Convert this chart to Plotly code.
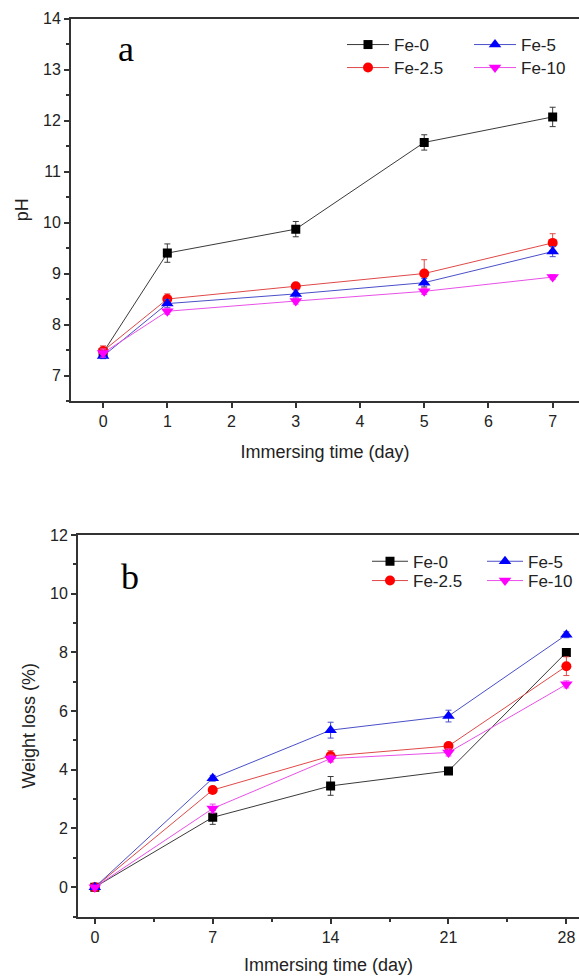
import plotly.graph_objects as go

# ---------------- data ----------------
series_names = ["Fe-0", "Fe-2.5", "Fe-5", "Fe-10"]

ph_days = [0, 1, 3, 5, 7]
ph_fe0 = [7.45, 9.40, 9.87, 11.57, 12.07]
ph_fe0_err = [0.10, 0.18, 0.15, 0.15, 0.19]
ph_fe25 = [7.48, 8.50, 8.75, 9.00, 9.60]
ph_fe25_err = [0.10, 0.10, 0.06, 0.27, 0.18]
ph_fe5 = [7.38, 8.41, 8.60, 8.82, 9.43]
ph_fe5_err = [0.05, 0.08, 0.08, 0.08, 0.10]
ph_fe10 = [7.44, 8.26, 8.46, 8.65, 8.93]
ph_fe10_err = [0.08, 0.06, 0.06, 0.06, 0.05]

wl_days = [0, 7, 14, 21, 28]
wl_fe0 = [0.0, 2.38, 3.45, 3.96, 8.00]
wl_fe0_err = [0.05, 0.24, 0.32, 0.12, 0.10]
wl_fe25 = [0.0, 3.31, 4.47, 4.81, 7.53]
wl_fe25_err = [0.05, 0.12, 0.18, 0.10, 0.32]
wl_fe5 = [0.0, 3.71, 5.35, 5.83, 8.60]
wl_fe5_err = [0.05, 0.10, 0.27, 0.20, 0.10]
wl_fe10 = [0.0, 2.68, 4.38, 4.59, 6.91]
wl_fe10_err = [0.05, 0.15, 0.12, 0.12, 0.12]

ph_x_ticks = [0, 1, 2, 3, 4, 5, 6, 7]
ph_y_ticks = [7, 8, 9, 10, 11, 12, 13, 14]
wl_x_ticks = [0, 7, 14, 21, 28]
wl_y_ticks = [0, 2, 4, 6, 8, 10, 12]

# ---------------- styles ----------------
styles = {
    "Fe-0": dict(line="#3a3a3a", marker="#000000", symbol="square", size=9),
    "Fe-2.5": dict(line="#e04848", marker="#ff0000", symbol="circle", size=10),
    "Fe-5": dict(line="#4a4fc8", marker="#0000ff", symbol="triangle-up", size=11),
    "Fe-10": dict(line="#e850e8", marker="#ff00ff", symbol="triangle-down", size=11),
}
legend_of_top = {"Fe-0": "legend", "Fe-5": "legend", "Fe-2.5": "legend2", "Fe-10": "legend2"}
legend_of_bot = {"Fe-0": "legend3", "Fe-5": "legend3", "Fe-2.5": "legend4", "Fe-10": "legend4"}

FONT = "Liberation Sans, Arial, sans-serif"

fig = go.Figure()

def add_series(name, x, y, err, xa, ya, legend):
    s = styles[name]
    fig.add_trace(go.Scatter(
        x=x, y=y, name=name, mode="lines+markers",
        xaxis=xa, yaxis=ya, legend=legend,
        line=dict(color=s["line"], width=1),
        marker=dict(color=s["marker"], symbol=s["symbol"], size=s["size"],
                    line=dict(width=0)),
        error_y=dict(type="data", array=err, visible=True,
                     color=s["line"], thickness=1, width=3),
    ))

top_data = {"Fe-0": (ph_fe0, ph_fe0_err), "Fe-2.5": (ph_fe25, ph_fe25_err),
            "Fe-5": (ph_fe5, ph_fe5_err), "Fe-10": (ph_fe10, ph_fe10_err)}
bot_data = {"Fe-0": (wl_fe0, wl_fe0_err), "Fe-2.5": (wl_fe25, wl_fe25_err),
            "Fe-5": (wl_fe5, wl_fe5_err), "Fe-10": (wl_fe10, wl_fe10_err)}

for n in series_names:
    add_series(n, ph_days, top_data[n][0], top_data[n][1], "x", "y", legend_of_top[n])
for n in series_names:
    add_series(n, wl_days, bot_data[n][0], bot_data[n][1], "x2", "y2", legend_of_bot[n])

W, H = 579, 978
axis_common = dict(showline=True, linecolor="#333333", linewidth=2, showgrid=False,
                   zeroline=False, ticks="outside", ticklen=5, tickwidth=1.5,
                   tickcolor="#333333", automargin=False, ticklabeloverflow="allow",
                   tickfont=dict(family=FONT, size=16, color="#222222"))

title_font = dict(family=FONT, size=18, color="#222222")

fig.update_layout(
    width=W, height=H,
    margin=dict(l=0, r=0, t=0, b=0, autoexpand=False),
    paper_bgcolor="white", plot_bgcolor="white",
    xaxis=dict(axis_common, domain=[71 / W, 1], range=[-0.5, 7.41], anchor="y",
               tickvals=ph_x_ticks, mirror=True,
               title=dict(text="Immersing time (day)", font=title_font, standoff=16)),
    yaxis=dict(axis_common, domain=[1 - 401 / H, 1 - 18.5 / H], range=[6.5, 14],
               anchor="x", tickvals=ph_y_ticks,
               minor=dict(dtick=0.5, tick0=0, ticks="outside", ticklen=3,
                          tickwidth=1.5, tickcolor="#333333"),
               title=dict(text="pH", font=title_font, standoff=10)),
    xaxis2=dict(axis_common, domain=[78 / W, 1], range=[-1, 28.75], anchor="y2",
                tickvals=wl_x_ticks, mirror=True,
                minor=dict(dtick=3.5, tick0=0, ticks="outside", ticklen=3,
                           tickwidth=1.5, tickcolor="#333333"),
                title=dict(text="Immersing time (day)", font=title_font, standoff=14)),
    yaxis2=dict(axis_common, domain=[1 - 916.5 / H, 1 - 535 / H], range=[-1, 12],
                anchor="x2", tickvals=wl_y_ticks,
                minor=dict(dtick=1, tick0=0, ticks="outside", ticklen=3,
                           tickwidth=1.5, tickcolor="#333333"),
                title=dict(text="Weight loss (%)", font=title_font, standoff=10)),
    showlegend=True,
)

leg_common = dict(orientation="h", xanchor="left", yanchor="middle",
                  bgcolor="rgba(0,0,0,0)", borderwidth=0,
                  entrywidthmode="pixels",
                  font=dict(family=FONT, size=17, color="#222222"))
fig.update_layout(
    legend=dict(leg_common, x=342 / W, y=1 - 45 / H, entrywidth=70, itemwidth=42),
    legend2=dict(leg_common, x=342 / W, y=1 - 68 / H, entrywidth=70, itemwidth=42),
    legend3=dict(leg_common, x=367 / W, y=1 - 561.7 / H, entrywidth=64, itemwidth=36),
    legend4=dict(leg_common, x=367 / W, y=1 - 581 / H, entrywidth=64, itemwidth=36),
)

fig.add_annotation(text="a", x=126 / W, y=1 - 49 / H, xref="paper", yref="paper",
                   showarrow=False, xanchor="center", yanchor="middle",
                   font=dict(family="Liberation Serif, Times New Roman, serif", size=36, color="#000"))
fig.add_annotation(text="b", x=130 / W, y=1 - 577 / H, xref="paper", yref="paper",
                   showarrow=False, xanchor="center", yanchor="middle",
                   font=dict(family="Liberation Serif, Times New Roman, serif", size=36, color="#000"))

fig.write_html(
    "out.html",
    config={"displayModeBar": False},
    post_script="document.body.style.margin='0';document.body.style.overflow='hidden';",
)
